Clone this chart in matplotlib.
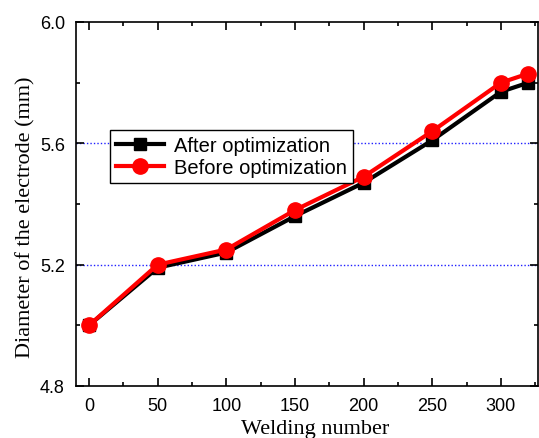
import numpy as np
import matplotlib
matplotlib.use('Agg')
import matplotlib.pyplot as plt
from matplotlib.ticker import MultipleLocator

welding_number = [0, 50, 100, 150, 200, 250, 300, 320]
after_opt = [5.00, 5.19, 5.24, 5.36, 5.47, 5.61, 5.77, 5.80]
before_opt = [5.00, 5.20, 5.25, 5.38, 5.49, 5.64, 5.80, 5.83]
grid_levels = [5.2, 5.6]

fig = plt.figure(figsize=(5.39, 4.39), dpi=100)
ax = fig.add_axes([76 / 539, 1 - 387 / 439, (538 - 76) / 539, (387 - 23) / 439])

for g in grid_levels:
    ax.axhline(g, color='#2020ff', linestyle=(0, (1, 1.5)), linewidth=1.0, zorder=0)

ax.plot(welding_number, after_opt, color='black', linewidth=3, marker='s',
        markersize=9, label='After optimization', zorder=2)
ax.plot(welding_number, before_opt, color='red', linewidth=3, marker='o',
        markersize=11, label='Before optimization', zorder=3)

ax.set_xlim(-9.5, 327)
ax.set_ylim(4.8, 6.0)
ax.xaxis.set_major_locator(MultipleLocator(50))
ax.xaxis.set_minor_locator(MultipleLocator(25))
ax.yaxis.set_major_locator(MultipleLocator(0.4))
ax.yaxis.set_minor_locator(MultipleLocator(0.2))
ax.tick_params(which='both', direction='in', top=True, right=True, width=1.2)
ax.tick_params(which='major', length=6, labelsize=13, pad=8)
ax.tick_params(which='minor', length=3)
for lbl in ax.get_xticklabels() + ax.get_yticklabels():
    lbl.set_family('Liberation Sans')
for sp in ax.spines.values():
    sp.set_linewidth(1.2)

ax.set_xlabel('Welding number', family='Liberation Serif', fontsize=16)
ax.set_ylabel('Diameter of the electrode (mm)', family='Liberation Serif', fontsize=16)
ax.xaxis.set_label_coords(0.517, -0.091)
ax.yaxis.set_label_coords(-0.087, 0.465)

leg = ax.legend(loc='upper left', bbox_to_anchor=((110 - 76) / 462, (387 - 131) / 364),
                prop={'family': 'Liberation Sans', 'size': 14.5}, fancybox=False,
                framealpha=1, edgecolor='black', borderpad=0.3, handlelength=2.4,
                handletextpad=0.5, labelspacing=0.15, borderaxespad=0)
leg.get_frame().set_linewidth(1.0)

fig.savefig('out.png', dpi=100)
